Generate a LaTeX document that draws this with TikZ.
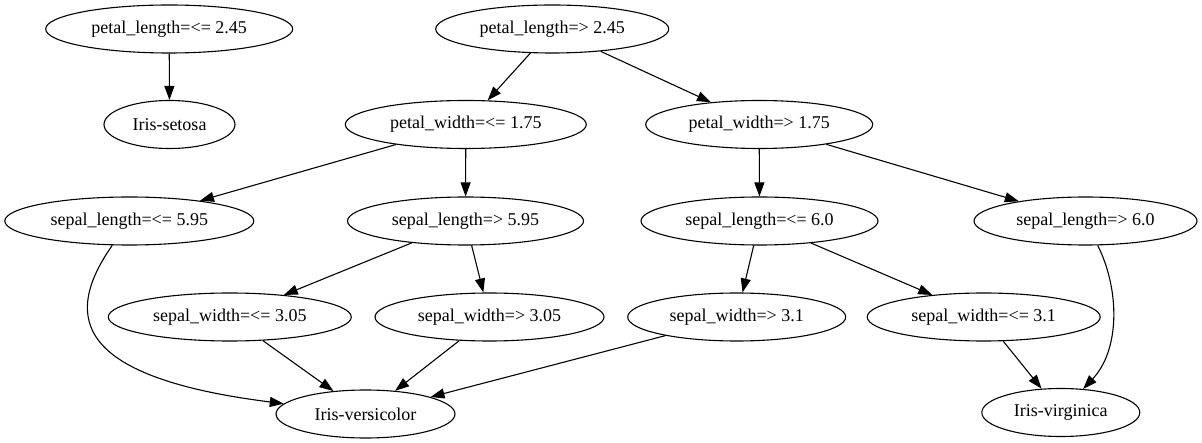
\documentclass[tikz,border=0pt]{standalone}
\usepackage{fontspec}
\setmainfont{Liberation Serif}
\usetikzlibrary{shapes.geometric,arrows.meta}
\begin{document}
\begin{tikzpicture}[x=1pt,y=-1pt,
  tnode/.style={ellipse,draw,line width=1.1pt,inner sep=0pt,minimum height=48pt,
    font=\fontsize{18}{22}\selectfont},
  edge/.style={line width=1.1pt,-{Triangle[length=14pt,width=10pt]}}]
\useasboundingbox (0,0) rectangle (1202,443);
% rank 1
\node[tnode,minimum width=247pt] (pl1) at (169.2,29) {petal\_length=<= 2.45};
\node[tnode,minimum width=233pt] (pl2) at (552.2,29) {petal\_length=> 2.45};
% rank 2
\node[tnode,minimum width=131pt] (setosa) at (169.5,124.5) {Iris-setosa};
\node[tnode,minimum width=241pt] (pw1) at (465.8,124.5) {petal\_width=<= 1.75};
\node[tnode,minimum width=227pt] (pw2) at (759.2,124.5) {petal\_width=> 1.75};
% rank 3
\node[tnode,minimum width=249pt] (sl1) at (129.3,221) {sepal\_length=<= 5.95};
\node[tnode,minimum width=236pt] (sl2) at (465.5,221) {sepal\_length=> 5.95};
\node[tnode,minimum width=237pt] (sl3) at (759.5,221) {sepal\_length=<= 6.0};
\node[tnode,minimum width=223pt] (sl4) at (1085.5,221) {sepal\_length=> 6.0};
% rank 4
\node[tnode,minimum width=243pt] (sw1) at (229.8,317) {sepal\_width=<= 3.05};
\node[tnode,minimum width=229pt] (sw2) at (489.5,317) {sepal\_width=> 3.05};
\node[tnode,minimum width=218pt] (sw3) at (736.7,317) {sepal\_width=> 3.1};
\node[tnode,minimum width=233pt] (sw4) at (983.7,317) {sepal\_width=<= 3.1};
% rank 5
\node[tnode,minimum width=179pt] (versi) at (365.5,414) {Iris-versicolor};
\node[tnode,minimum width=158pt] (virgi) at (1060.8,412.5) {Iris-virginica};
% edges
\draw[edge] (pl1) -- (setosa);
\draw[edge] (pl2) -- (pw1);
\draw[edge] (pl2) -- (pw2);
\draw[edge] (pw1) -- (sl1);
\draw[edge] (pw1) -- (sl2);
\draw[edge] (pw2) -- (sl3);
\draw[edge] (pw2) -- (sl4);
\draw[edge] (sl2) -- (sw1);
\draw[edge] (sl2) -- (sw2);
\draw[edge] (sl3) -- (sw3);
\draw[edge] (sl3) -- (sw4);
\draw[edge] (sl1) .. controls (60,320) and (80,378) .. (versi);
\draw[edge] (sw1) -- (versi);
\draw[edge] (sw2) -- (versi);
\draw[edge] (sw3) -- (versi);
\draw[edge] (sw4) -- (virgi);
\draw[edge] (sl4) .. controls (1120,290) and (1120,350) .. (virgi);
\end{tikzpicture}
\end{document}
